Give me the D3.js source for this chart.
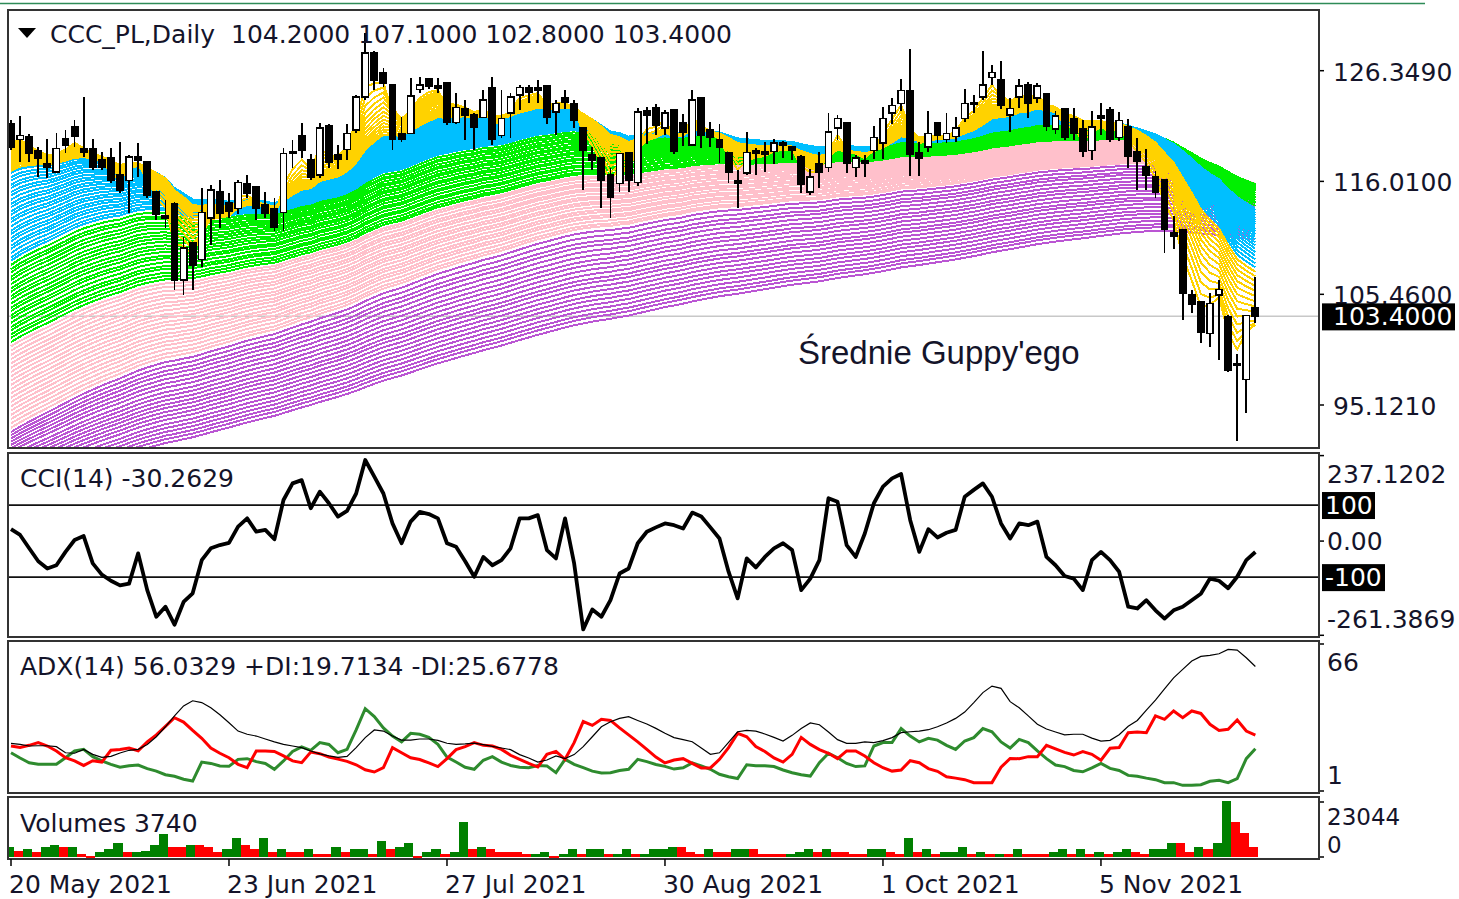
<!DOCTYPE html>
<html>
<head>
<meta charset="utf-8">
<script src="https://cdn.jsdelivr.net/npm/d3@7"></script>
<style>
  html, body { margin: 0; background: #fff; }
  svg { display: block; }
  text { font-family: "DejaVu Sans", Verdana, sans-serif; font-size: 25px; fill: #14142a; white-space: pre; }
</style>
</head>
<body>
<svg id="chart" width="1459" height="899"></svg>
<script>
// ---- data ----
const symbol = "CCC_PL,Daily";
const open  = [121.4,119.9,120.2,118.9,117.7,116.9,120.0,121.1,119.1,119.1,118.0,118.2,116.6,116.1,118.3,117.8,115.0,112.8,113.9,106.8,
  110.3,108.7,112.6,115.0,114.0,113.5,115.8,115.5,113.8,113.5,113.1,118.8,120.3,118.0,116.6,121.2,118.5,119.0,120.8,123.9,
  128.0,126.2,125.0,120.5,120.5,124.6,125.6,124.9,125.2,121.5,122.8,122.2,122.0,124.8,120.3,122.4,124.1,124.8,124.8,124.9,
  122.5,123.8,123.3,121.0,118.5,118.2,116.6,115.8,118.7,115.9,122.6,122.9,121.0,122.7,121.5,119.4,123.8,120.8,119.9,118.7,
  116.1,116.8,118.9,118.8,118.8,119.6,119.2,118.3,115.0,117.7,117.3,121.0,121.5,117.3,117.9,118.9,119.6,122.4,123.3,124.5,
  118.7,119.2,121.5,119.9,120.2,121.9,123.4,123.9,125.7,125.5,122.2,123.9,125.0,123.8,124.2,120.9,122.8,121.9,120.9,118.9,
  122.1,122.7,120.1,121.1,118.8,117.4,116.4,116.2,111.2,111.5,105.4,104.8,101.8,105.4,103.4,99.0,97.5,104.2];
const high  = [121.7,122.1,120.4,119.2,120.0,120.5,120.8,121.7,123.9,120.0,118.8,119.1,119.7,118.5,119.6,117.9,115.0,114.3,114.1,110.8,
  110.3,115.4,115.7,116.1,114.9,116.1,116.6,115.5,115.0,114.5,119.1,119.9,121.5,118.6,121.5,121.4,119.4,121.4,124.1,129.9,
  128.2,126.6,125.0,122.0,125.7,125.8,125.7,125.7,125.3,124.3,123.6,122.4,124.5,125.8,124.5,124.3,125.0,125.0,125.5,125.0,
  123.6,124.5,123.6,121.0,119.2,118.3,117.3,118.7,118.7,122.9,123.0,123.2,122.7,122.7,122.3,124.5,123.8,121.6,121.4,118.7,
  117.1,120.6,119.1,119.7,120.0,119.8,119.3,118.5,117.2,118.8,122.4,122.2,121.5,118.5,118.5,121.2,123.0,123.8,125.6,128.4,
  119.7,122.6,121.5,122.4,122.0,124.6,124.1,128.2,126.9,127.3,123.8,125.6,125.3,125.2,124.3,122.6,122.9,122.9,121.7,122.6,
  123.3,123.0,122.5,121.8,120.1,119.0,117.0,116.2,112.8,111.5,105.9,104.8,105.6,106.8,103.5,99.9,103.5,107.1];
const low   = [118.9,117.8,117.8,116.4,116.3,116.9,118.7,119.2,118.3,117.1,117.1,115.9,114.9,113.1,116.4,114.5,112.4,111.7,105.9,105.4,
  105.9,108.0,110.1,111.7,112.6,113.0,114.5,112.4,112.6,111.4,111.4,117.3,118.2,116.1,116.3,117.3,117.2,118.0,120.5,123.6,
  124.5,124.8,118.9,119.7,120.5,124.3,124.6,124.3,121.3,121.4,119.9,118.9,121.9,119.4,120.1,120.1,122.7,123.3,123.3,121.4,
  120.3,122.8,121.0,115.2,117.1,113.5,112.6,115.0,115.0,115.6,119.5,120.3,120.3,118.6,119.3,119.3,119.1,119.2,117.7,115.9,
  113.5,116.6,116.6,116.9,117.6,118.2,118.0,114.9,114.7,115.4,116.9,119.9,116.8,116.4,116.4,118.1,118.1,121.4,122.6,116.5,
  116.5,118.8,119.6,119.6,119.7,121.6,122.4,123.6,125.0,122.8,120.6,122.9,121.9,123.3,120.7,120.4,119.9,119.9,118.3,118.0,
  120.3,119.7,119.8,117.3,115.2,115.2,114.5,109.3,109.7,103.1,103.7,100.9,100.5,99.3,98.2,91.8,94.4,102.8];
const close = [119.2,120.3,118.6,118.2,117.3,119.1,119.4,120.2,118.7,117.3,117.3,116.1,115.2,118.3,118.0,114.7,112.9,112.6,106.8,109.8,
  108.2,113.1,115.2,113.0,113.2,115.9,114.9,113.5,113.0,111.7,118.6,118.7,118.9,116.4,121.0,117.8,118.1,120.5,123.9,128.0,
  125.5,125.2,119.9,119.9,124.0,125.0,124.9,124.7,121.5,122.9,122.2,121.1,123.6,119.9,121.9,123.9,124.8,124.3,124.5,122.0,
  123.3,123.4,121.7,118.9,118.0,116.1,114.5,118.6,116.1,122.5,122.2,121.3,122.4,118.8,120.6,123.6,120.3,120.1,119.2,116.9,
  115.8,118.7,118.6,118.5,119.6,119.4,118.9,115.7,116.4,116.9,120.6,121.9,117.7,118.2,117.7,120.1,121.9,123.1,124.5,118.5,
  118.2,120.5,120.3,120.5,121.0,123.3,123.2,125.0,126.2,123.1,122.8,124.9,123.3,124.9,121.2,122.1,120.1,120.5,118.8,121.1,
  121.9,119.9,121.7,118.4,117.9,116.6,115.0,111.5,110.9,105.6,104.5,101.9,104.6,105.9,98.4,98.8,103.5,103.4];

const volume = [3630,2100,2800,1800,3900,4600,3630,3700,700,150,1800,2800,5600,1800,1850,1900,4600,9200,3630,3600,
  4600,4500,3630,1800,2800,7400,4600,2800,7400,1800,2800,1800,1750,2800,840,800,3630,1800,2800,2850,
  840,6400,2800,3630,5600,100,1800,2800,840,1800,14100,2800,3630,2800,1800,1750,1700,840,900,1800,
  100,840,2800,840,2800,2850,840,850,2800,840,850,2800,2850,3630,3600,1800,840,2800,1800,1750,
  2800,2850,2800,860,850,840,850,1800,2800,1800,2800,1850,1800,850,840,2750,2800,1800,840,7400,
  1800,2800,840,1750,1800,3630,840,1800,840,850,840,2800,840,830,820,1800,2800,840,2800,840,
  1800,840,1800,2800,1800,840,2750,2800,5600,5500,1800,3630,2800,5600,23044,14100,9500,3740];

const cci = [33,17,-20,-56,-76,-67,-30,3,14,-62,-93,-110,-123,-118,-34,-136,-210,-182,-232,-169,
  -145,-53,-20,-11,-5,40,63,26,31,5,114,160,169,91,137,105,68,84,132,225,
  179,132,49,-6,54,81,75,63,-6,-16,-56,-99,-44,-67,-53,-20,63,63,72,-25,
  -48,63,-62,-245,-190,-210,-164,-90,-76,-6,26,38,49,44,35,79,68,38,7,-85,
  -159,-48,-73,-44,-20,-6,-25,-136,-104,-53,119,109,-11,-44,21,105,151,174,186,58,
  -30,33,10,23,31,123,142,160,123,49,7,49,44,54,-44,-67,-97,-104,-136,-53,
  -30,-53,-85,-182,-187,-164,-192,-215,-192,-182,-164,-146,-104,-110,-131,-99,-53,-30.2629];

const adx = [22.1,21.6,20.9,21.0,21.0,20.6,17.9,17.7,19.4,17.2,15.9,16.3,17.8,19.0,19.4,21.6,25.0,29.4,34.2,38.6,
  40.9,40.1,37.8,34.7,31.2,27.5,26.1,25.3,24.0,22.7,21.6,20.9,20.2,18.7,17.4,16.5,15.9,16.3,20.2,24.6,
  28.0,27.5,25.3,23.5,23.5,24.0,24.0,23.4,22.1,21.6,21.8,22.2,21.5,20.7,20.0,19.3,17.1,15.6,13.8,14.7,
  16.5,15.3,17.1,20.6,25.0,29.4,31.6,33.1,33.9,32.2,30.6,28.7,26.5,24.6,23.7,22.8,20.0,17.2,17.9,22.5,
  27.2,27.8,27.5,26.2,24.7,23.1,25.6,28.6,31.1,30.3,27.1,23.7,22.1,22.1,22.7,22.4,23.3,24.6,26.8,27.2,
  27.5,28.1,29.4,31.1,33.1,35.9,40.1,44.5,47.4,46.4,40.5,37.8,34.2,30.5,28.4,27.1,25.8,26.1,26.1,24.4,
  23.1,23.4,25.9,29.6,32.2,36.8,41.2,46.2,51.0,54.8,58.5,60.5,61.0,61.7,63.6,63.3,59.9,56.0329];
const plusDI = [17.9,15.6,13.5,12.8,12.8,12.8,15.7,18.7,19.4,16.2,14.3,12.8,11.5,12.2,12.5,10.9,9.8,8.2,7.5,6.2,
  5.4,13.8,13.2,12.1,11.9,15.0,15.3,14.0,13.2,10.6,14.3,18.5,20.5,19.0,22.4,21.6,17.9,19.4,28.0,37.4,
  33.9,28.9,25.3,22.7,26.5,26.1,24.7,21.6,16.0,13.8,11.5,10.6,14.6,16.2,13.8,12.3,11.5,11.3,12.3,12.1,
  9.1,15.0,12.8,11.3,9.8,9.0,9.1,10.1,10.6,15.0,14.0,12.7,11.9,10.7,11.3,13.4,12.1,10.6,8.4,7.3,
  6.5,12.6,12.2,12.2,11.8,10.3,9.1,8.2,7.6,13.5,17.7,15.7,13.2,11.8,12.1,20.9,22.4,22.4,28.6,25.3,
  22.7,24.3,23.5,21.2,19.4,23.1,24.6,28.6,27.2,22.7,20.0,23.8,22.4,18.7,15.3,12.5,11.8,10.1,9.5,11.2,
  13.2,11.0,10.1,7.9,7.5,6.7,6.0,4.7,4.7,3.5,3.5,3.8,5.3,5.7,4.7,6.5,15.3,19.7134];
const minusDI = [20.9,20.2,21.2,22.4,20.9,18.7,15.7,14.3,12.3,14.4,13.8,19.0,19.4,20.0,18.8,22.7,25.8,29.6,33.4,31.5,
  27.8,24.3,20.0,17.7,15.7,12.8,11.3,18.7,18.7,18.5,16.5,14.3,13.5,18.2,17.5,16.0,15.1,14.1,12.6,10.4,
  9.4,11.3,20.2,17.9,15.7,14.9,13.4,11.8,15.3,19.3,20.6,22.4,21.2,20.9,19.4,16.8,15.0,13.2,11.6,17.2,
  18.5,15.0,22.4,31.7,30.0,32.7,32.2,28.9,25.8,22.7,19.4,16.0,13.4,14.7,15.3,13.2,11.2,11.2,15.0,20.2,
  26.5,25.0,20.7,18.5,15.6,13.8,17.2,24.7,21.6,19.3,17.7,15.3,18.7,18.7,16.5,13.5,11.3,9.8,10.3,14.4,
  13.5,10.9,9.7,7.3,6.7,6.0,4.7,4.7,4.7,11.5,15.4,15.3,16.2,16.2,21.2,19.6,18.1,16.9,18.4,17.2,
  14.6,19.9,20.2,26.8,27.1,26.8,34.2,32.7,36.4,33.4,36.4,35.3,30.5,27.8,28.3,32.4,27.5,25.6778];

const goldPeriods   = [3,4,5,6,7,8,9,10,11,12,13,14,15,16];
const goldSeeds     = [119.6,119.4,119.2,119.0,118.8,118.6,118.4,118.2,118.0,117.8,117.6,117.4,117.2,117.0];
const bluePeriods   = [17,18,19,20,21,22,23,24,25,26,27,28,29,30,31,32,33,34,35,36,37,38,39,40];
const blueSeeds     = [116.8,116.4,116.1,115.7,115.4,115.0,114.7,114.3,113.9,113.6,113.2,112.9,112.5,112.2,111.8,111.4,111.1,110.7,110.4,110.0,109.7,109.3,108.9,108.6];
const greenPeriods  = [42,44,45,47,49,50,52,54,55,57,59,60,62,64,65,67,69,70,72,74,75];
const greenSeeds    = [108.2,107.8,107.5,107.1,106.8,106.4,106.0,105.7,105.3,105.0,104.6,104.2,103.9,103.5,103.2,102.8,102.4,102.1,101.7,101.4,101.0];
const pinkPeriods   = [77,78,80,82,83,85,86,88,90,91,93,94,96,98,99,101,102,104,106,107];
const pinkSeeds     = [100.6,100.2,99.8,99.4,99.0,98.6,98.2,97.8,97.4,97.0,96.6,96.2,95.8,95.4,95.0,94.6,94.2,93.8,93.4,93.0];
const purplePeriods = [110,114,118,121,125,129,133,136,140,144,148,151,155,159,163,166,170,174,178,181,185];
const purpleSeeds   = [92.6,92.3,92.0,91.7,91.4,91.1,90.8,90.4,90.1,89.8,89.5,89.2,88.9,88.6,88.3,87.9,87.6,87.3,87.0,86.7,86.4];

const dateLabels = ["20 May 2021", "23 Jun 2021", "27 Jul 2021", "30 Aug 2021", "1 Oct 2021", "5 Nov 2021"];
const dateBars   = [0, 24, 48, 72, 96, 120];
const priceTicks = [126.349, 116.01, 105.46, 95.121];
const cciRange   = [-261.3869, 237.1202];
const adxRange   = [1, 66];
const volMax     = 23044;

// ---- layout ----
const svg = d3.select("#chart");
const last = close.length - 1;
const panel = {
  main:   { top: 10,  bottom: 448 },
  cci:    { top: 453, bottom: 637 },
  adx:    { top: 641, bottom: 793 },
  vol:    { top: 797, bottom: 859 }
};
const left = 8, right = 1319, labelX = 1333;

const x = d3.scaleLinear().domain([0, last]).range([11, 11 + last * 9.083]);
const yP = d3.scaleLinear().domain([95.121, 126.349]).range([405, 70.7]);
const yC = d3.scaleLinear().domain(cciRange).range([635.3, 455.6]);
const yA = d3.scaleLinear().domain(adxRange).range([791, 644]);
const yV = d3.scaleLinear().domain([0, volMax]).range([857, 802]);

svg.append("line").attr("x1", 0).attr("x2", 1425).attr("y1", 3.5).attr("y2", 3.5)
  .attr("stroke", "#2e8b57").attr("stroke-width", 1.5);

const defs = svg.append("defs");
Object.entries(panel).forEach(([k, p]) => {
  defs.append("clipPath").attr("id", "clip-" + k)
    .append("rect").attr("x", left + 1).attr("y", p.top + 1)
    .attr("width", right - left - 2).attr("height", p.bottom - p.top - 2);
});

function label(t, xx, cy, opts = {}) {
  const size = opts.size || 25;
  return svg.append("text").attr("x", xx).attr("y", cy + size * 0.36)
    .style("font-size", size + "px")
    .style("fill", opts.fill || null)
    .text(t);
}

// ---- main price panel ----
const main = svg.append("g").attr("clip-path", "url(#clip-main)");
main.append("line").attr("x1", left).attr("x2", right)
  .attr("y1", yP(close[last])).attr("y2", yP(close[last]))
  .attr("stroke", "#c8c8c8").attr("stroke-width", 1.5);

function ema(period, seed) {
  const k = 2 / (period + 1);
  let e = seed;
  return close.map((c, i) => (i === 0 ? e : (e = e + k * (c - e))));
}
const groups = [
  { color: "#BA55D3", periods: purplePeriods, seeds: purpleSeeds },
  { color: "#FFC0CB", periods: pinkPeriods,   seeds: pinkSeeds },
  { color: "#00F000", periods: greenPeriods,  seeds: greenSeeds },
  { color: "#00BFFF", periods: bluePeriods,   seeds: blueSeeds },
  { color: "#FFD200", periods: goldPeriods,   seeds: goldSeeds }
];
const line = d3.line().x((d, i) => x(i)).y(d => yP(d));
groups.forEach(g => {
  g.periods.forEach((p, j) => {
    main.append("path").datum(ema(p, g.seeds[j]))
      .attr("d", line).attr("fill", "none")
      .attr("stroke", g.color).attr("stroke-width", 2)
      .attr("shape-rendering", "crispEdges");
  });
});

const candles = main.selectAll("g.candle").data(close.map((c, i) => i)).enter().append("g");
candles.append("line")
  .attr("x1", i => x(i)).attr("x2", i => x(i))
  .attr("y1", i => yP(high[i])).attr("y2", i => yP(low[i]))
  .attr("stroke", "#000").attr("stroke-width", 1.8).attr("shape-rendering", "crispEdges");
candles.append("rect")
  .attr("x", i => x(i) - 3.2).attr("width", 6.4)
  .attr("y", i => yP(Math.max(open[i], close[i])))
  .attr("height", i => Math.max(2, Math.abs(yP(open[i]) - yP(close[i]))))
  .attr("fill", i => close[i] >= open[i] ? "#fff" : "#000")
  .attr("stroke", "#000").attr("stroke-width", 1.5).attr("shape-rendering", "crispEdges");

svg.append("text").attr("x", 798).attr("y", 364)
  .style("font-family", "'Liberation Sans', Arial, sans-serif").style("font-size", "33px")
  .text("Średnie Guppy'ego");

svg.append("path").attr("d", "M18,28 L36,28 L27,38 Z").attr("fill", "#000");
label(`${symbol}  ${open[last].toFixed(4)} ${high[last].toFixed(4)} ${low[last].toFixed(4)} ${close[last].toFixed(4)}`, 50, 34);

priceTicks.forEach(v => {
  svg.append("line").attr("x1", right).attr("x2", right + 5).attr("y1", yP(v)).attr("y2", yP(v)).attr("stroke", "#000").attr("stroke-width", 1.5);
  label(v.toFixed(4), labelX, yP(v) + 1);
});
svg.append("rect").attr("x", 1322).attr("y", yP(close[last]) - 13).attr("width", 133).attr("height", 27).attr("fill", "#000");
label(close[last].toFixed(4), labelX, yP(close[last]), { fill: "#fff" });

// ---- CCI ----
const gC = svg.append("g").attr("clip-path", "url(#clip-cci)");
[100, -100].forEach(v => gC.append("line").attr("x1", left).attr("x2", right)
  .attr("y1", yC(v)).attr("y2", yC(v)).attr("stroke", "#111").attr("stroke-width", 1.8));
gC.append("path").datum(cci)
  .attr("d", d3.line().x((d, i) => x(i)).y(d => yC(d)))
  .attr("fill", "none").attr("stroke", "#000").attr("stroke-width", 3.8).attr("stroke-linejoin", "round");
label(`CCI(14) ${cci[last].toFixed(4)}`, 20, 478);
label(cciRange[1].toFixed(4), labelX - 6, 474);
label("0.00", labelX - 6, 541);
label(cciRange[0].toFixed(4), labelX - 6, 619);
[[100, "100", 53], [-100, "-100", 63]].forEach(([v, t, w]) => {
  svg.append("rect").attr("x", 1322).attr("y", yC(v) - 13).attr("width", w).attr("height", 27).attr("fill", "#000");
  label(t, 1325, yC(v), { fill: "#fff" });
});
[cciRange[1], 0, cciRange[0]].forEach(v => svg.append("line").attr("x1", right).attr("x2", right + 5)
  .attr("y1", yC(v)).attr("y2", yC(v)).attr("stroke", "#000").attr("stroke-width", 1.5));

// ---- ADX ----
const gA = svg.append("g").attr("clip-path", "url(#clip-adx)");
const lineA = d3.line().x((d, i) => x(i)).y(d => yA(d));
gA.append("path").datum(plusDI).attr("d", lineA).attr("fill", "none").attr("stroke", "#2e8b2e").attr("stroke-width", 3);
gA.append("path").datum(minusDI).attr("d", lineA).attr("fill", "none").attr("stroke", "#ff0000").attr("stroke-width", 3);
gA.append("path").datum(adx).attr("d", lineA).attr("fill", "none").attr("stroke", "#000").attr("stroke-width", 1.2);
label(`ADX(14) ${adx[last].toFixed(4)} +DI:${plusDI[last].toFixed(4)} -DI:${minusDI[last].toFixed(4)}`, 20, 666);
label(String(adxRange[1]), labelX - 6, 662);
label(String(adxRange[0]), labelX - 6, 775);
adxRange.forEach(v => svg.append("line").attr("x1", right).attr("x2", right + 5)
  .attr("y1", yA(v)).attr("y2", yA(v)).attr("stroke", "#000").attr("stroke-width", 1.5));

// ---- Volumes ----
const gV = svg.append("g").attr("clip-path", "url(#clip-vol)");
gV.selectAll("rect").data(volume).enter().append("rect")
  .attr("x", (d, i) => x(i) - 6.5).attr("width", 9.1)
  .attr("y", d => yV(d) - 1).attr("height", d => Math.max(2, 857 - yV(d) + 1))
  .attr("fill", (d, i) => i > 0 && d <= volume[i - 1] ? "#ff0000" : "#008000")
  .attr("shape-rendering", "crispEdges");
label(`Volumes ${volume[last]}`, 20, 823);
label(String(volMax), labelX - 6, 817, { size: 23 });
label("0", labelX - 6, 845, { size: 23 });
[0, volMax].forEach(v => svg.append("line").attr("x1", right).attr("x2", right + 5)
  .attr("y1", yV(v)).attr("y2", yV(v)).attr("stroke", "#000").attr("stroke-width", 1.5));

// ---- frames & date axis ----
Object.values(panel).forEach(p => {
  svg.append("rect").attr("x", left).attr("y", p.top).attr("width", right - left).attr("height", p.bottom - p.top)
    .attr("fill", "none").attr("stroke", "#333").attr("stroke-width", 2);
});
dateBars.forEach((b, k) => {
  svg.append("line").attr("x1", x(b)).attr("x2", x(b)).attr("y1", 859).attr("y2", 866)
    .attr("stroke", "#000").attr("stroke-width", 1.5);
  label(dateLabels[k], x(b) - 2, 884);
});
</script>
</body>
</html>
